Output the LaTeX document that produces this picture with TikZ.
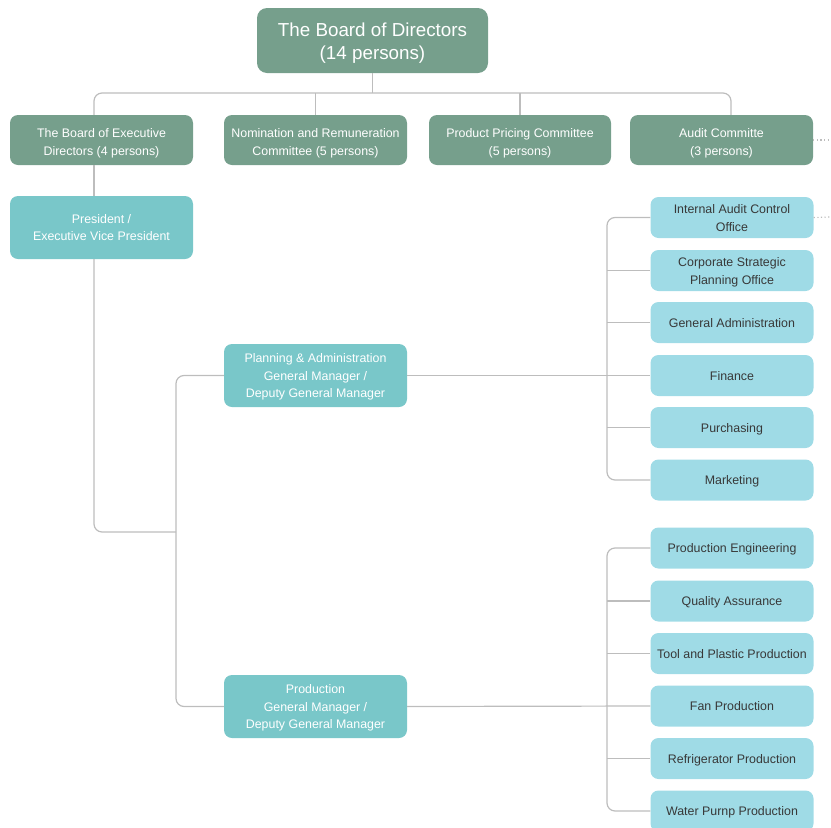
\documentclass[tikz,border=0pt]{standalone}
\usepackage{fontspec}
\setmainfont{Liberation Sans}
\definecolor{boardgreen}{HTML}{769F8C}
\definecolor{mgrteal}{HTML}{79C7C9}
\definecolor{deptblue}{HTML}{9FDBE6}
\definecolor{linegray}{HTML}{BDBDBD}
\definecolor{depttext}{HTML}{383838}
\newcommand{\lowtxt}[2]{\raisebox{-#1}[\height][\depth]{\begin{tabular}{@{}c@{}}#2\end{tabular}}}
\begin{document}
\begin{tikzpicture}[x=1pt,y=-1pt,
  base/.style={rounded corners=8pt, inner sep=0pt, text=white},
  topbox/.style={base, fill=boardgreen, minimum width=231pt, minimum height=65pt, rounded corners=10pt,
    font=\fontsize{18.8}{23}\selectfont},
  cmtbox/.style={base, fill=boardgreen, minimum width=183pt, minimum height=50pt,
    font=\fontsize{12.4}{18.5}\selectfont},
  mgrbox/.style={base, fill=mgrteal, minimum width=183pt, minimum height=63pt,
    font=\fontsize{12.4}{17.8}\selectfont},
  deptbox/.style={base, fill=deptblue, text=depttext, minimum width=163pt, minimum height=41pt,
    font=\fontsize{12.4}{18}\selectfont},
  conn/.style={draw=linegray, line width=1.2pt},
  rc/.style={rounded corners=8pt},
  dotconn/.style={draw=linegray, line width=1.2pt, dash pattern=on 1.2pt off 2.4pt}
]
\useasboundingbox (0,0) rectangle (831,828);

% coordinates of buses
\coordinate (busL) at (94,93);
\coordinate (busR) at (731,93);
\coordinate (trunkL) at (94,532);
\coordinate (trunkM) at (176,532);
\coordinate (colA) at (607,0);
\coordinate (dotAud) at (831,140);
\coordinate (dotIac) at (831,217);

% nodes
\node[topbox] (bod) at (372.5,40.5) {\lowtxt{2.5pt}{The Board of Directors\\(14 persons)}};

\node[cmtbox] (bex) at (101.5,140) {\lowtxt{3pt}{The Board of Executive\\Directors (4 persons)}};
\node[cmtbox] (nom) at (315.5,140) {\lowtxt{3pt}{Nomination and Remuneration\\Committee (5 persons)}};
\node[cmtbox, minimum width=182pt] (ppc) at (520,140) {\lowtxt{3pt}{Product Pricing Committee\\(5 persons)}};
\node[cmtbox] (aud) at (721.5,140) {\lowtxt{3pt}{Audit Committe\\(3 persons)}};

\node[mgrbox] (pres) at (101.5,227.5) {\lowtxt{1pt}{President /\\Executive Vice President}};
\node[mgrbox] (pa) at (315.5,375.5) {\lowtxt{1pt}{Planning \& Administration\\General Manager /\\Deputy General Manager}};
\node[mgrbox] (prod) at (315.5,706.5) {\lowtxt{1pt}{Production\\General Manager /\\Deputy General Manager}};

\node[deptbox] (iac) at (732,217.5) {\lowtxt{1pt}{Internal Audit Control\\Office}};
\node[deptbox] (csp) at (732,270.5) {\lowtxt{1pt}{Corporate Strategic\\Planning Office}};
\node[deptbox] (gad) at (732,322.5) {\lowtxt{1pt}{General Administration}};
\node[deptbox] (fin) at (732,375.5) {\lowtxt{1pt}{Finance}};
\node[deptbox] (pur) at (732,427.5) {\lowtxt{1pt}{Purchasing}};
\node[deptbox] (mkt) at (732,480) {\lowtxt{1pt}{Marketing}};

\node[deptbox] (pen) at (732,548) {\lowtxt{1pt}{Production Engineering}};
\node[deptbox] (qua) at (732,601) {\lowtxt{1pt}{Quality Assurance}};
\node[deptbox] (tpp) at (732,653.5) {\lowtxt{1pt}{Tool and Plastic Production}};
\node[deptbox] (fan) at (732,706) {\lowtxt{1pt}{Fan Production}};
\node[deptbox] (ref) at (732,758.5) {\lowtxt{1pt}{Refrigerator Production}};
\node[deptbox] (wpp) at (732,811) {\lowtxt{1pt}{Water Purnp Production}};

% connectors
\draw[conn] (bod.south) -- (bod.south |- busL);
\draw[conn, rc] (bex.north -| busL) -- (busL) -- (busR) -- (aud.north -| busR);
\draw[conn] (nom.north) -- (nom.north |- busL);
\draw[conn] (ppc.north) -- (ppc.north |- busL);

\draw[conn] (bex.south -| busL) -- (pres.north -| busL);
\draw[conn, rc] (pres.south -| busL) -- (trunkL) -- (trunkM);
\draw[conn, rc] (pa.west) -- (pa.west -| trunkM) -- (prod.west -| trunkM) -- (prod.west);

\draw[conn] (pa.east) -- (fin.west);
\draw[conn, rc] (iac.west) -- (iac.west -| colA) -- (mkt.west -| colA) -- (mkt.west);
\draw[conn] (csp.west -| colA) -- (csp.west);
\draw[conn] (gad.west -| colA) -- (gad.west);
\draw[conn] (pur.west -| colA) -- (pur.west);

\draw[conn] (prod.east) -- (fan.west);
\draw[conn, rc] (pen.west) -- (pen.west -| colA) -- (wpp.west -| colA) -- (wpp.west);
\draw[conn] (qua.west -| colA) -- (qua.west);
\draw[conn] (tpp.west -| colA) -- (tpp.west);
\draw[conn] (ref.west -| colA) -- (ref.west);

\draw[dotconn] (aud.east) -- (dotAud);
\draw[dotconn] (iac.east) -- (dotIac);
\end{tikzpicture}
\end{document}
